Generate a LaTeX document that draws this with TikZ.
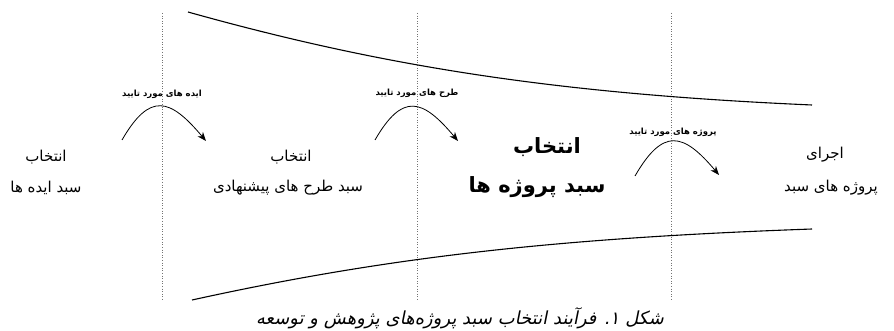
\documentclass[tikz,border=0pt]{standalone}
\usepackage{fontspec}
\newfontfamily\fafont[Script=Arabic,ItalicFont=DejaVu Sans,ItalicFeatures={FakeSlant=0.2}]{DejaVu Sans}
\TeXXeTstate=1
\newcommand{\fatxt}[1]{{\fafont\beginR #1\endR}}
\usetikzlibrary{arrows.meta}

\begin{document}
\begin{tikzpicture}[x=1pt,y=-1pt,
  sep/.style={draw=black!55,dotted,line width=0.6pt},
  fun/.style={draw=black,line width=1.1pt},
  hop/.style={-{Stealth[length=9pt,width=7pt]},black,line width=0.8pt},
  lbl/.style={font=\fontsize{8.5}{9}\selectfont\bfseries,inner sep=1pt},
  txt/.style={font=\fontsize{15}{17}\selectfont,inner sep=0pt},
  big/.style={font=\fontsize{21}{24}\selectfont\bfseries,inner sep=0pt},
  figcap/.style={font=\fontsize{18}{20}\selectfont\itshape,inner sep=0pt}]
  \useasboundingbox (0,0) rectangle (894,331);

  % stage borders
  \foreach \x in {162,417,671}
    \draw[sep] (\x,13) -- (\x,300);

  % funnel
  \draw[fun] (188,12) .. controls (388,68) and (562,94) .. (812,105);
  \draw[fun] (192,300) .. controls (392,256) and (562,238) .. (812,229);

  % stages
  \node[txt] (ideaA) at (46,157) {\fatxt{انتخاب}};
  \node[txt] (ideaB) at (46,188) {\fatxt{سبد ایده ها}};
  \node[txt] (planA) at (291,157) {\fatxt{انتخاب}};
  \node[txt] (planB) at (288,188) {\fatxt{سبد طرح های پیشنهادی}};
  \node[big] (projA) at (547,147) {\fatxt{انتخاب}};
  \node[big] (projB) at (537,187) {\fatxt{سبد پروژه ها}};
  \node[txt] (runA) at (825,155) {\fatxt{اجرای}};
  \node[txt] (runB) at (831,188) {\fatxt{پروژه های سبد}};

  % hand-overs
  \coordinate (h1s) at (122,140);
  \coordinate (h1e) at (206,141);
  \coordinate (h2s) at (375,140);
  \coordinate (h2e) at (458,141);
  \coordinate (h3s) at (635,176);
  \coordinate (h3e) at (719,175);
  \draw[hop] (h1s) to[out=60,in=130,looseness=1.7] (h1e);
  \draw[hop] (h2s) to[out=60,in=130,looseness=1.7] (h2e);
  \draw[hop] (h3s) to[out=60,in=130,looseness=1.7] (h3e);
  \node[lbl] (h1l) at (162,94) {\fatxt{ایده های مورد تایید}};
  \node[lbl] (h2l) at (417,93) {\fatxt{طرح های مورد تایید}};
  \node[lbl] (h3l) at (673,132) {\fatxt{پروژه های مورد تایید}};

  % caption
  \node[figcap] (fig) at (460,318) {\fatxt{شکل ۱. فرآیند انتخاب سبد پروژه‌های پژوهش و توسعه}};
\end{tikzpicture}
\end{document}
